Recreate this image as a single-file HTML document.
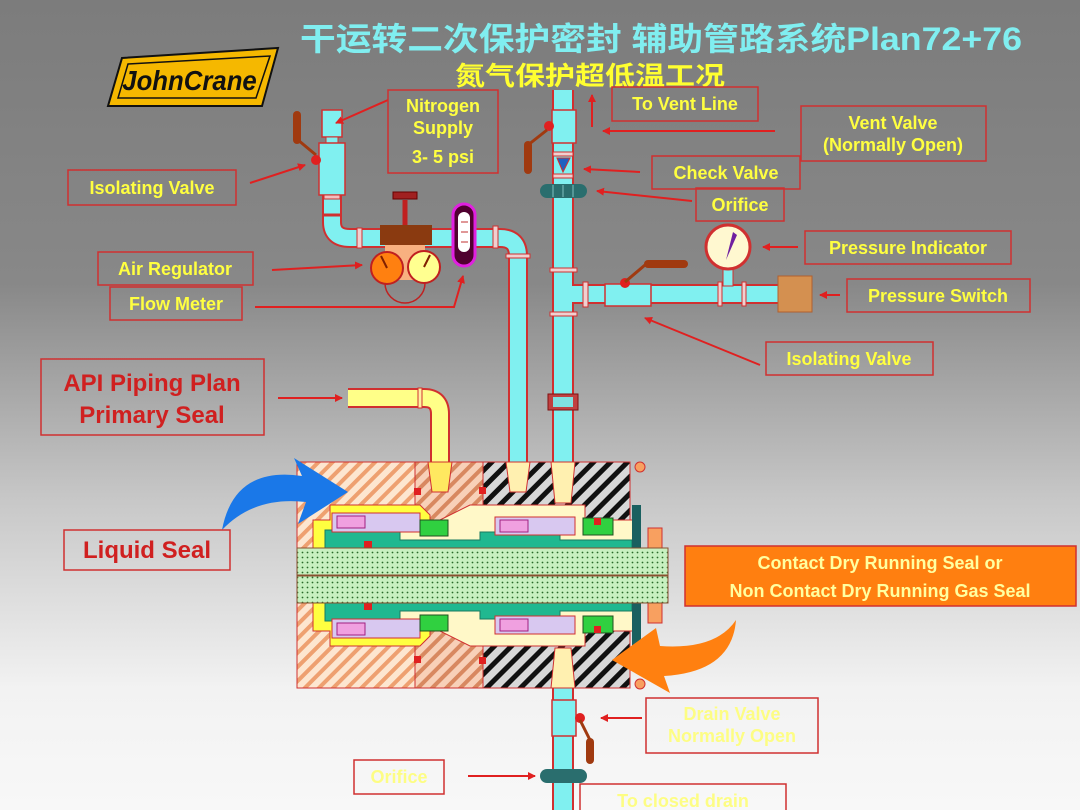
<!DOCTYPE html>
<html><head><meta charset="utf-8"><style>
html,body{margin:0;padding:0}
body{width:1080px;height:810px;overflow:hidden;background:linear-gradient(#7c7c7c 0%,#888 35%,#c8c8c8 62%,#f2f2f2 85%,#f8f8f8 100%);}
svg{display:block}
text{font-family:"Liberation Sans","Noto Sans CJK SC",sans-serif;font-weight:bold}
</style></head><body>
<svg width="1080" height="810" viewBox="0 0 1080 810" xmlns="http://www.w3.org/2000/svg">
<defs>
<marker id="ar" markerWidth="8" markerHeight="8" refX="7" refY="4" orient="auto" markerUnits="userSpaceOnUse"><path d="M0,0 L8,4 L0,8 Z" fill="#e02020"/></marker>
<pattern id="ho" width="10" height="10" patternUnits="userSpaceOnUse" patternTransform="rotate(45)"><rect width="10" height="10" fill="#fde6d0"/><rect width="4" height="10" fill="#eea070"/></pattern>
<pattern id="ho2" width="10" height="10" patternUnits="userSpaceOnUse" patternTransform="rotate(45)"><rect width="10" height="10" fill="#f8d0b8"/><rect width="4" height="10" fill="#d88860"/></pattern>
<pattern id="hb" width="12" height="12" patternUnits="userSpaceOnUse" patternTransform="rotate(45)"><rect width="12" height="12" fill="#d8d8d8"/><rect width="5" height="12" fill="#111"/></pattern>
<pattern id="dots" width="5" height="5" patternUnits="userSpaceOnUse"><rect width="5" height="5" fill="#c8f0c0"/><circle cx="2.5" cy="2.5" r="0.9" fill="#2a6a2a"/></pattern>
</defs>

<!-- Title -->
<text x="300" y="50" font-size="32" fill="#80eef0" textLength="722" lengthAdjust="spacingAndGlyphs">干运转二次保护密封 辅助管路系统Plan72+76</text>
<text x="455" y="85" font-size="26" fill="#ffff30" textLength="270" lengthAdjust="spacingAndGlyphs">氮气保护超低温工况</text>

<!-- Logo -->
<polygon points="122,58 278,48 262,106 108,106" fill="#f5b800" stroke="#111" stroke-width="2"/>
<polygon points="128,64 270,56 256,98 118,98" fill="#f5b800" stroke="#111" stroke-width="1.5"/>
<text x="190" y="90" font-size="28" fill="#111" text-anchor="middle" font-style="italic" transform="scale(0.92,1) translate(16,0)">JohnCrane</text>

<!-- Nitrogen pipe -->
<path d="M332,195 V222 Q332,238 350,238 H500 Q518,238 518,256 V466" fill="none" stroke="#d03030" stroke-width="20"/>
<path d="M332,195 V222 Q332,238 350,238 H500 Q518,238 518,256 V466" fill="none" stroke="#80f0f0" stroke-width="16"/>
<rect x="322" y="110" width="20" height="27" fill="#80f0f0" stroke="#d03030" stroke-width="1.5"/>
<rect x="326" y="137" width="12" height="6" fill="#80f0f0" stroke="#d03030"/>
<rect x="319" y="143" width="26" height="52" fill="#80f0f0" stroke="#d03030" stroke-width="1.5"/>
<line x1="297" y1="115" x2="297" y2="140" stroke="#a03a10" stroke-width="8" stroke-linecap="round"/>
<line x1="298" y1="140" x2="316" y2="155" stroke="#a03a10" stroke-width="3"/>
<circle cx="316" cy="160" r="5" fill="#e02020"/>
<rect x="324" y="195" width="16" height="4" fill="#f0c0c0" stroke="#d03030"/>
<line x1="324" y1="215" x2="341" y2="215" stroke="#d03030" stroke-width="3"/>
<rect x="357" y="228" width="5" height="20" fill="#f0d0d0" stroke="#d03030"/>
<rect x="493" y="226" width="5" height="22" fill="#f0d0d0" stroke="#d03030"/>
<rect x="506" y="254" width="24" height="4" fill="#f0d0d0" stroke="#d03030"/>
<!-- regulator -->
<circle cx="405" cy="283" r="20" fill="none" stroke="#c02020" stroke-width="1.5"/>
<rect x="385" y="245" width="40" height="35" fill="#f8b080"/>
<line x1="405" y1="200" x2="405" y2="226" stroke="#c02020" stroke-width="5"/>
<rect x="393" y="192" width="24" height="7" fill="#a02020" stroke="#600" />
<rect x="380" y="225" width="52" height="20" fill="#8a3a10"/>
<circle cx="387" cy="268" r="16" fill="#ff8010" stroke="#c02020" stroke-width="2"/>
<line x1="387" y1="268" x2="381" y2="256" stroke="#802000" stroke-width="2"/>
<circle cx="424" cy="267" r="16" fill="#ffff90" stroke="#c02020" stroke-width="2"/>
<line x1="424" y1="267" x2="430" y2="255" stroke="#802000" stroke-width="2"/>
<!-- flow meter -->
<rect x="453" y="204" width="22" height="62" rx="11" fill="#500030" stroke="#e020e0" stroke-width="3"/>
<rect x="458" y="212" width="12" height="40" rx="6" fill="#fff"/>
<line x1="461" y1="222" x2="468" y2="222" stroke="#c03030"/><line x1="461" y1="232" x2="468" y2="232" stroke="#c03030"/><line x1="461" y1="242" x2="468" y2="242" stroke="#c03030"/>

<!-- Vent pipe -->
<path d="M563,90 V466" stroke="#d03030" stroke-width="22"/>
<path d="M563,90 V466" stroke="#80f0f0" stroke-width="18"/>
<rect x="552" y="110" width="24" height="33" fill="#80f0f0" stroke="#d03030" stroke-width="1.5"/>
<circle cx="549" cy="126" r="5" fill="#e02020"/>
<line x1="547" y1="130" x2="528" y2="145" stroke="#a03a10" stroke-width="3"/>
<line x1="528" y1="145" x2="528" y2="170" stroke="#a03a10" stroke-width="8" stroke-linecap="round"/>
<rect x="553" y="152" width="20" height="4" fill="#f0d0d0" stroke="#d03030"/>
<polygon points="557,158 570,158 563,172" fill="#2060c0" stroke="#d03030"/>
<rect x="553" y="174" width="20" height="4" fill="#f0d0d0" stroke="#d03030"/>
<rect x="540" y="184" width="47" height="14" rx="7" fill="#2a6e6e"/>
<line x1="553" y1="185" x2="553" y2="197" stroke="#80c0c0"/><line x1="563" y1="185" x2="563" y2="197" stroke="#80c0c0"/><line x1="573" y1="185" x2="573" y2="197" stroke="#80c0c0"/>
<rect x="550" y="268" width="27" height="4" fill="#f0d0d0" stroke="#d03030"/>
<rect x="550" y="312" width="27" height="4" fill="#f0d0d0" stroke="#d03030"/>
<rect x="548" y="394" width="30" height="16" fill="#c04040" stroke="#801010"/>
<rect x="553" y="397" width="20" height="10" fill="#80e0e0"/>
<!-- branch -->
<path d="M573,294 H780" stroke="#d03030" stroke-width="20"/>
<path d="M570,294 H780" stroke="#80f0f0" stroke-width="16"/>
<rect x="583" y="282" width="5" height="25" fill="#f0d0d0" stroke="#d03030"/>
<rect x="605" y="284" width="46" height="22" fill="#80f0f0" stroke="#d03030" stroke-width="1.5"/>
<circle cx="625" cy="283" r="5" fill="#e02020"/>
<line x1="625" y1="282" x2="645" y2="265" stroke="#a03a10" stroke-width="3"/>
<line x1="648" y1="264" x2="684" y2="264" stroke="#a03a10" stroke-width="8" stroke-linecap="round"/>
<rect x="718" y="282" width="4" height="24" fill="#f0d0d0" stroke="#d03030"/>
<rect x="742" y="282" width="4" height="24" fill="#f0d0d0" stroke="#d03030"/>
<rect x="723" y="268" width="10" height="18" fill="#80f0f0" stroke="#d03030"/>
<circle cx="728" cy="247" r="22" fill="#fff8d0" stroke="#d03030" stroke-width="3"/>
<polygon points="733,232 737,235 726,260" fill="#7020a0"/>
<rect x="778" y="276" width="34" height="36" fill="#d49050" stroke="#b06030"/>

<!-- Yellow pipe -->
<path d="M348,398 H424 Q440,398 440,414 V466" fill="none" stroke="#d03030" stroke-width="20"/>
<path d="M348,398 H424 Q440,398 440,414 V466" fill="none" stroke="#ffff88" stroke-width="16"/>
<rect x="418" y="388" width="4" height="20" fill="#fff0a0" stroke="#d03030"/>

<!-- Drain pipe -->
<path d="M563,686 V810" stroke="#d03030" stroke-width="22"/>
<path d="M563,686 V810" stroke="#80f0f0" stroke-width="18"/>
<rect x="552" y="700" width="24" height="36" fill="#80f0f0" stroke="#d03030" stroke-width="1.5"/>
<circle cx="580" cy="718" r="5" fill="#e02020"/>
<line x1="580" y1="720" x2="590" y2="740" stroke="#a03a10" stroke-width="3"/>
<line x1="590" y1="742" x2="590" y2="760" stroke="#a03a10" stroke-width="8" stroke-linecap="round"/>
<rect x="540" y="769" width="47" height="14" rx="7" fill="#2a6e6e"/>

<!-- Housing -->
<rect x="297" y="462" width="118" height="226" fill="url(#ho)" stroke="#d03030"/>
<rect x="415" y="462" width="68" height="226" fill="url(#ho2)" stroke="#d03030"/>
<rect x="483" y="462" width="147" height="226" fill="url(#hb)" stroke="#d03030"/>
<g id="up">
<path d="M313,548 V520 H330 V505 H420 L430,515 V548 Z" fill="#ffff40" stroke="#d03030"/>
<path d="M400,520 H440 L470,505 H585 V520 H640 V548 H400 Z" fill="#fff8c8" stroke="#d03030"/>
<path d="M325,548 V530 H400 V540 H480 V532 H560 V540 H632 V548 Z" fill="#20b890" stroke="#1a7a60"/>
<rect x="332" y="513" width="88" height="19" fill="#d8c8f0" stroke="#d03030"/>
<rect x="337" y="516" width="28" height="12" fill="#f0a0e0" stroke="#a02080"/>
<rect x="495" y="517" width="80" height="18" fill="#d8c8f0" stroke="#d03030"/>
<rect x="500" y="520" width="28" height="12" fill="#f0a0e0" stroke="#a02080"/>
<rect x="420" y="520" width="28" height="16" fill="#30d040" stroke="#205020"/>
<rect x="583" y="518" width="30" height="17" fill="#30d040" stroke="#205020"/>
<rect x="414" y="488" width="7" height="7" fill="#e02020"/>
<rect x="479" y="487" width="7" height="7" fill="#e02020"/>
<rect x="364" y="541" width="8" height="7" fill="#e02020"/>
<rect x="594" y="518" width="7" height="7" fill="#e02020"/>
<rect x="632" y="505" width="9" height="43" fill="#1a6060"/>
<rect x="648" y="528" width="14" height="20" fill="#f8a060" stroke="#d03030"/>
<circle cx="640" cy="467" r="5" fill="#f8a060" stroke="#d03030"/>
</g>
<use href="#up" transform="matrix(1,0,0,-1,0,1151)"/>
<polygon points="428,462 452,462 448,492 432,492" fill="#ffe860" stroke="#d03030"/>
<polygon points="506,462 530,462 526,492 510,492" fill="#fff0b0" stroke="#d03030"/>
<polygon points="551,462 575,462 571,503 555,503" fill="#fff0b0" stroke="#d03030"/>
<polygon points="555,648 571,648 575,688 551,688" fill="#fff0b0" stroke="#d03030"/>
<rect x="297" y="548" width="371" height="27" fill="url(#dots)" stroke="#8a5030"/>
<rect x="297" y="576" width="371" height="27" fill="url(#dots)" stroke="#8a5030"/>

<!-- curved arrows -->
<path d="M222,530 Q234,466 302,476 L294,458 L348,492 L298,524 L306,502 Q254,496 222,530 Z" fill="#1a78e8"/>
<path d="M736,620 Q732,672 664,676 L670,693 L612,660 L656,628 L660,646 Q716,650 736,620 Z" fill="#ff8010"/>

<!-- connectors -->
<g stroke="#e02020" stroke-width="2" fill="none" marker-end="url(#ar)">
<line x1="388" y1="100" x2="336" y2="123"/>
<line x1="250" y1="183" x2="305" y2="165"/>
<line x1="272" y1="270" x2="362" y2="265"/>
<polyline points="255,307 454,307 463,276"/>
<line x1="592" y1="127" x2="592" y2="95"/>
<line x1="775" y1="131" x2="603" y2="131"/>
<line x1="640" y1="172" x2="584" y2="169"/>
<line x1="692" y1="201" x2="597" y2="191"/>
<line x1="798" y1="247" x2="763" y2="247"/>
<line x1="840" y1="295" x2="820" y2="295"/>
<line x1="760" y1="365" x2="645" y2="318"/>
<line x1="278" y1="398" x2="342" y2="398"/>
<line x1="642" y1="718" x2="601" y2="718"/>
<line x1="468" y1="776" x2="535" y2="776"/>
</g>

<!-- label boxes -->
<g fill="none" stroke="#d03030" stroke-width="1.5">
<rect x="388" y="90" width="110" height="83"/>
<rect x="68" y="170" width="168" height="35"/>
<rect x="98" y="252" width="155" height="33"/>
<rect x="110" y="287" width="132" height="33"/>
<rect x="612" y="87" width="146" height="34"/>
<rect x="801" y="106" width="185" height="55"/>
<rect x="652" y="156" width="148" height="33"/>
<rect x="696" y="188" width="88" height="33"/>
<rect x="805" y="231" width="206" height="33"/>
<rect x="847" y="279" width="183" height="33"/>
<rect x="766" y="342" width="167" height="33"/>
<rect x="41" y="359" width="223" height="76"/>
<rect x="64" y="530" width="166" height="40"/>
<rect x="646" y="698" width="172" height="55"/>
<rect x="354" y="760" width="90" height="34"/>
<rect x="580" y="784" width="206" height="30"/>
</g>
<rect x="685" y="546" width="391" height="60" fill="#ff7f10" stroke="#d03030" stroke-width="1.5"/>

<g fill="#ffff40" font-size="18" text-anchor="middle">
<text x="443" y="112">Nitrogen</text>
<text x="443" y="134">Supply</text>
<text x="443" y="163">3- 5 psi</text>
<text x="152" y="194">Isolating Valve</text>
<text x="175" y="275">Air Regulator</text>
<text x="176" y="310">Flow Meter</text>
<text x="685" y="110">To Vent Line</text>
<text x="893" y="129">Vent Valve</text>
<text x="893" y="151">(Normally Open)</text>
<text x="726" y="179">Check Valve</text>
<text x="740" y="211">Orifice</text>
<text x="908" y="254">Pressure Indicator</text>
<text x="938" y="302">Pressure Switch</text>
<text x="849" y="365">Isolating Valve</text>
<text x="880" y="569" fill="#ffffa0">Contact Dry Running Seal or</text>
<text x="880" y="597" fill="#ffffa0">Non Contact Dry Running Gas Seal</text>
</g>
<g fill="#ffff70" font-size="18" text-anchor="middle" opacity="0.85">
<text x="732" y="720">Drain Valve</text>
<text x="732" y="742">Normally Open</text>
<text x="399" y="783">Orifice</text>
<text x="683" y="807">To closed drain</text>
</g>
<g fill="#d02020" font-size="24" text-anchor="middle">
<text x="152" y="391">API Piping Plan</text>
<text x="152" y="423">Primary Seal</text>
<text x="147" y="558">Liquid Seal</text>
</g>
</svg>
</body></html>
